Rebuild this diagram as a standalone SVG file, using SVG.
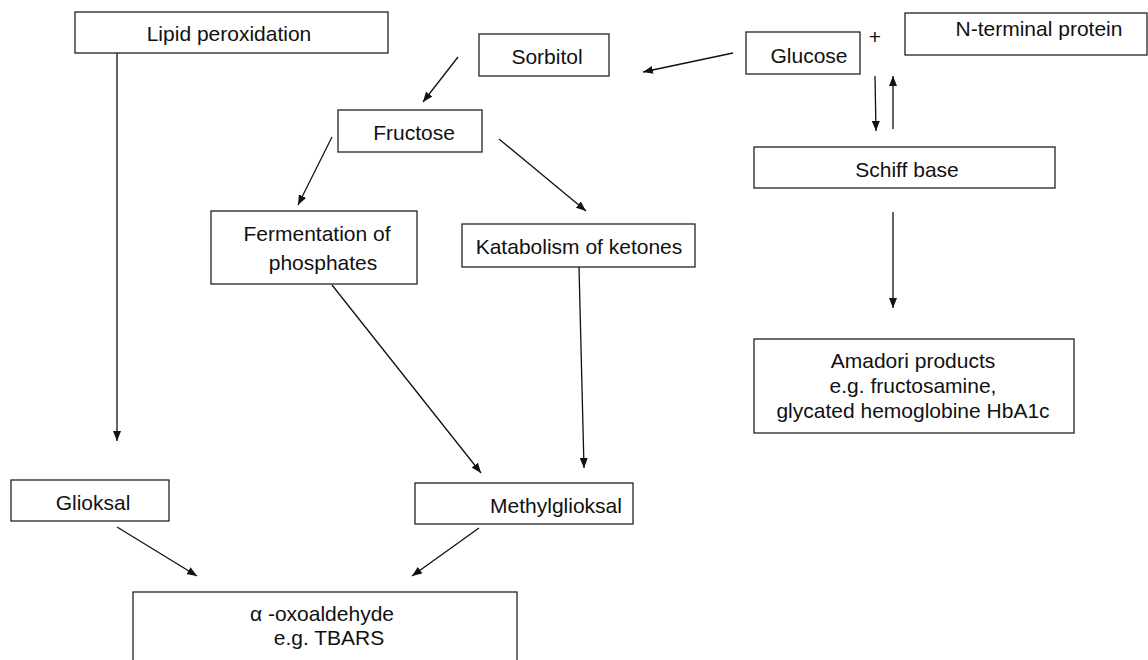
<svg xmlns="http://www.w3.org/2000/svg" width="1148" height="660" viewBox="0 0 1148 660">
<defs>
<style>
.box{fill:#fff;stroke:#222;stroke-width:1.3}
.t{font-family:"Liberation Sans",Arial,sans-serif;font-size:21px;fill:#111;text-anchor:middle}
.c{fill:none;stroke:#111;stroke-width:1.3;marker-end:url(#ah)}
</style>
<marker id="ah" markerUnits="userSpaceOnUse" markerWidth="10" markerHeight="8" refX="10" refY="4" orient="auto">
<path d="M0,0 L10,4 L0,8 Z" fill="#111"/>
</marker>
</defs>
<rect width="1148" height="660" fill="#fff"/>
<g id="connectors">
<line class="c" x1="117" y1="53" x2="117" y2="441"/>
<line class="c" x1="733" y1="53" x2="643" y2="72"/>
<line class="c" x1="458" y1="57" x2="423" y2="102"/>
<line class="c" x1="332" y1="137" x2="298" y2="205"/>
<line class="c" x1="499" y1="139" x2="586" y2="211"/>
<line class="c" x1="875" y1="76" x2="876" y2="131"/>
<line class="c" x1="893" y1="129" x2="893" y2="76"/>
<line class="c" x1="893" y1="212" x2="893" y2="308"/>
<line class="c" x1="332" y1="285" x2="481" y2="473"/>
<line class="c" x1="579" y1="267" x2="584" y2="468"/>
<line class="c" x1="117" y1="527" x2="197" y2="576"/>
<line class="c" x1="479" y1="528" x2="412" y2="576"/>
</g>
<g id="lipid"><rect class="box" x="75" y="12" width="313" height="41"/><text class="t" x="229" y="41">Lipid peroxidation</text></g>
<g id="sorbitol"><rect class="box" x="479" y="34" width="130" height="42"/><text class="t" x="547" y="64">Sorbitol</text></g>
<g id="glucose"><rect class="box" x="746" y="32" width="114" height="42"/><text class="t" x="809" y="63">Glucose</text></g>
<g id="plus"><text class="t" x="875" y="44">+</text></g>
<g id="nterminal"><rect class="box" x="905" y="13" width="242" height="42"/><text class="t" x="1039" y="36">N-terminal protein</text></g>
<g id="schiff"><rect class="box" x="754" y="147" width="301" height="41"/><text class="t" x="907" y="177">Schiff base</text></g>
<g id="fructose"><rect class="box" x="338" y="110" width="144" height="42"/><text class="t" x="414" y="140">Fructose</text></g>
<g id="fermentation"><rect class="box" x="211" y="211" width="206" height="73"/><text class="t" x="317" y="241">Fermentation of</text><text class="t" x="323" y="270">phosphates</text></g>
<g id="katabolism"><rect class="box" x="462" y="224" width="233" height="43"/><text class="t" x="579" y="254">Katabolism of ketones</text></g>
<g id="amadori"><rect class="box" x="754" y="339" width="320" height="94"/><text class="t" x="913" y="368">Amadori products</text><text class="t" x="913" y="393">e.g. fructosamine,</text><text class="t" x="913" y="418">glycated hemoglobine HbA1c</text></g>
<g id="glioksal"><rect class="box" x="11" y="480" width="158" height="41"/><text class="t" x="93" y="510">Glioksal</text></g>
<g id="methylglioksal"><rect class="box" x="415" y="483" width="218" height="41"/><text class="t" x="556" y="513">Methylglioksal</text></g>
<g id="oxoaldehyde"><rect class="box" x="133" y="592" width="384" height="80"/><text class="t" x="322" y="621">α -oxoaldehyde</text><text class="t" x="329" y="645">e.g. TBARS</text></g>
</svg>
